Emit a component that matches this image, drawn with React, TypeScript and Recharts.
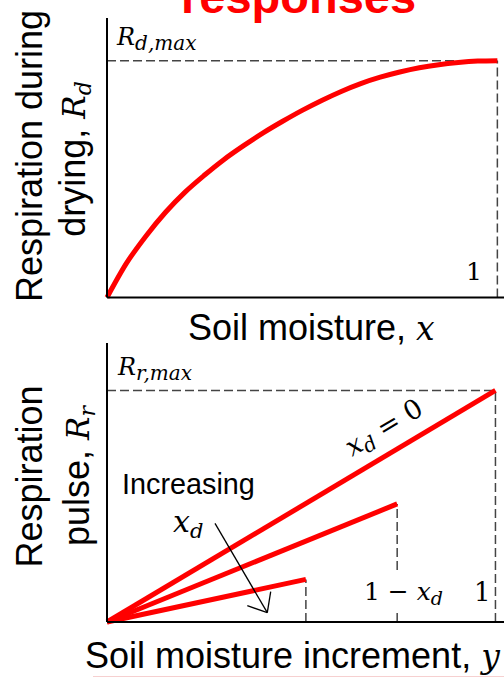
import React from 'react';
import { LineChart, Line, XAxis, YAxis, ReferenceLine } from 'recharts';

// Respiration during drying (normalised by R_d,max) vs soil moisture x
const dryX = [0, 0.05, 0.1, 0.15, 0.2, 0.25, 0.3, 0.35, 0.4, 0.45, 0.5, 0.55, 0.6, 0.65, 0.7, 0.75, 0.8, 0.85, 0.9, 0.95, 1];
const dryR = [0, 0.145, 0.26, 0.36, 0.445, 0.517, 0.583, 0.641, 0.695, 0.744, 0.79, 0.832, 0.87, 0.903, 0.93, 0.952, 0.97, 0.983, 0.992, 0.998, 1];

// Respiration pulse lines (normalised by R_r,max) vs soil moisture increment y
const pulseLabels = ['x_d = 0', 'mid x_d', 'high x_d'];
const pulseEndX = [1, 0.747, 0.512];
const pulseEndR = [1, 0.51, 0.184];

const dryData = dryX.map((x, i) => ({ x, r: dryR[i] }));
const pulseData = pulseEndX.map((ex, i) => [
  { x: 0, r: 0 },
  { x: ex, r: pulseEndR[i] },
]);

const RED = '#ff0000';
const DASH = '#444444';
const SANS = '"Liberation Sans", Arial, sans-serif';
const MATH = '"DejaVu Serif", serif';

const axisStyle = { stroke: '#000', strokeWidth: 2 };

export default function App() {
  return (
    <div
      style={{
        position: 'absolute',
        left: 0,
        top: 0,
        width: 504,
        height: 677,
        overflow: 'hidden',
        background: '#fff',
      }}
    >
      {/* Top chart: drying */}
      <div style={{ position: 'absolute', left: 0, top: 0 }}>
        <LineChart width={504} height={300} margin={{ top: 18, right: 0, bottom: 1.5, left: 106 }}>
          <XAxis dataKey="x" type="number" domain={[0, 1.017]} height={1} tick={false} tickLine={false} axisLine={axisStyle} />
          <YAxis type="number" domain={[0, 1.18]} width={1} tick={false} tickLine={false} axisLine={axisStyle} />
          <ReferenceLine segment={[{ x: 0, y: 1 }, { x: 1, y: 1 }]} stroke={DASH} strokeWidth={1.5} strokeDasharray="9 4" />
          <ReferenceLine segment={[{ x: 1, y: 0 }, { x: 1, y: 1 }]} stroke={DASH} strokeWidth={1.5} strokeDasharray="9 4" />
          <Line data={dryData} dataKey="r" type="monotone" stroke={RED} strokeWidth={5} dot={false} isAnimationActive={false} />
        </LineChart>
      </div>

      {/* Bottom chart: rewetting pulse */}
      <div style={{ position: 'absolute', left: 0, top: 330 }}>
        <LineChart width={504} height={300} margin={{ top: 13, right: 0, bottom: 7, left: 106 }}>
          <XAxis dataKey="x" type="number" domain={[0, 1.022]} height={1} tick={false} tickLine={false} axisLine={axisStyle} />
          <YAxis type="number" domain={[0, 1.205]} width={1} tick={false} tickLine={false} axisLine={axisStyle} />
          <ReferenceLine segment={[{ x: 0, y: 1 }, { x: 1, y: 1 }]} stroke={DASH} strokeWidth={1.5} strokeDasharray="9 4" />
          {pulseEndX.map((ex, i) => (
            <ReferenceLine
              key={'v' + i}
              segment={[{ x: ex, y: 0 }, { x: ex, y: pulseEndR[i] }]}
              stroke={DASH}
              strokeWidth={1.5}
              strokeDasharray="9 4"
            />
          ))}
          {pulseData.map((d, i) => (
            <Line
              key={pulseLabels[i]}
              name={pulseLabels[i]}
              data={d}
              dataKey="r"
              type="linear"
              stroke={RED}
              strokeWidth={5}
              dot={false}
              isAnimationActive={false}
            />
          ))}
        </LineChart>
      </div>

      {/* Annotations */}
      <svg width={504} height={677} style={{ position: 'absolute', left: 0, top: 0, pointerEvents: 'none' }}>
        <text x={181} y={13} fontFamily={SANS} fontWeight="bold" fontSize={47} fill={RED}>responses</text>

        {/* top y label */}
        <text transform="translate(41.7,156) rotate(-90)" textAnchor="middle" fontFamily={SANS} fontSize={36} fill="#000">
          Respiration during
        </text>
        <text transform="translate(85,159) rotate(-90)" textAnchor="middle" fontFamily={SANS} fontSize={36} fill="#000">
          drying,{' '}
          <tspan fontFamily={MATH} fontStyle="italic" fontSize={31}>R</tspan>
          <tspan fontFamily={MATH} fontStyle="italic" fontSize={22} dy={6}>d</tspan>
        </text>

        <text x={117} y={45} fontFamily={MATH} fontStyle="italic" fontSize={24} fill="#000">
          R<tspan fontSize={20} dy={5}>d,max</tspan>
        </text>
        <text x={466} y={280} fontFamily={MATH} fontSize={25} fill="#000">1</text>

        <text x={188} y={340} fontFamily={SANS} fontSize={36} fill="#000">
          Soil moisture,{' '}
          <tspan fontFamily={MATH} fontStyle="italic" fontSize={33}>x</tspan>
        </text>

        {/* bottom chart labels */}
        <text x={118} y={375} fontFamily={MATH} fontStyle="italic" fontSize={24} fill="#000">
          R<tspan fontSize={20} dy={5}>r,max</tspan>
        </text>

        <text transform="translate(41.7,476.5) rotate(-90)" textAnchor="middle" fontFamily={SANS} fontSize={36} fill="#000">
          Respiration
        </text>
        <text transform="translate(89,476) rotate(-90)" textAnchor="middle" fontFamily={SANS} fontSize={36} fill="#000">
          pulse,{' '}
          <tspan fontFamily={MATH} fontStyle="italic" fontSize={31}>R</tspan>
          <tspan fontFamily={MATH} fontStyle="italic" fontSize={22} dy={6}>r</tspan>
        </text>

        <text transform="translate(352,457) rotate(-30.8)" fontFamily={MATH} fontSize={27} fill="#000">
          <tspan fontStyle="italic">x</tspan>
          <tspan fontStyle="italic" fontSize={20} dy={5}>d</tspan>
          <tspan dy={-5}> = 0</tspan>
        </text>

        <text x={122} y={494.3} fontFamily={SANS} fontSize={28.8} fill="#000">Increasing</text>
        <text x={173} y={531.7} fontFamily={MATH} fontStyle="italic" fontSize={30} fill="#000">
          x<tspan fontSize={21} dy={6}>d</tspan>
        </text>

        <line x1={215} y1={523.3} x2={267.3} y2={612.7} stroke="#000" strokeWidth={1.3} />
        <line x1={247.3} y1={605.7} x2={267.3} y2={612.7} stroke="#000" strokeWidth={1.3} />
        <line x1={270.7} y1={591.7} x2={267.3} y2={612.7} stroke="#000" strokeWidth={1.3} />

        <rect x={362} y={574} width={86} height={39} fill="#fff" />
        <text x={364} y={600} fontFamily={MATH} fontSize={25} fill="#000">
          1 − <tspan fontStyle="italic">x</tspan>
          <tspan fontStyle="italic" fontSize={19} dy={5}>d</tspan>
        </text>
        <text x={474} y={601} fontFamily={MATH} fontSize={26} fill="#000">1</text>

        <text x={85} y={668} fontFamily={SANS} fontSize={36} fill="#000">
          Soil moisture increment,{' '}
          <tspan fontFamily={MATH} fontStyle="italic" fontSize={33}>y</tspan>
        </text>

        <line x1={93} y1={676.5} x2={504} y2={676.5} stroke="#f6d0d0" strokeWidth={1} />
      </svg>
    </div>
  );
}
